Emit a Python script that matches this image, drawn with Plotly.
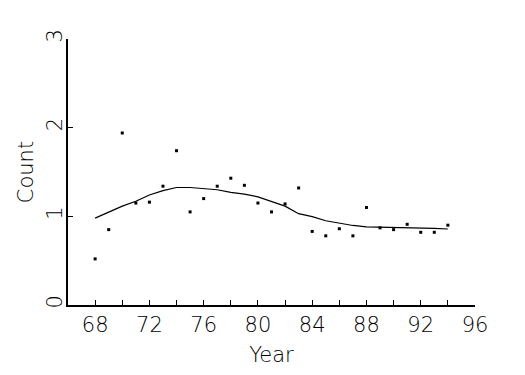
import plotly.graph_objects as go

years = list(range(68, 95))
counts = [0.52, 0.85, 1.94, 1.15, 1.16, 1.34, 1.74, 1.05, 1.20, 1.34, 1.43, 1.35, 1.15, 1.05,
          1.14, 1.32, 0.83, 0.78, 0.86, 0.78, 1.10, 0.87, 0.85, 0.91, 0.82, 0.82, 0.90]
smooth = [0.98, 1.05, 1.115, 1.17, 1.24, 1.29, 1.325, 1.325, 1.31, 1.30, 1.27, 1.25, 1.22, 1.17,
          1.115, 1.03, 0.997, 0.95, 0.92, 0.897, 0.88, 0.878, 0.87, 0.87, 0.864, 0.864, 0.857]
x_ticks = [68, 72, 76, 80, 84, 88, 92, 96]
y_ticks = [0, 1, 2, 3]

FONT = "DejaVu Sans"

fig = go.Figure()
fig.add_trace(go.Scatter(x=years, y=smooth, mode="lines",
                         line=dict(color="black", width=1.2), showlegend=False))
fig.add_trace(go.Scatter(x=years, y=counts, mode="markers",
                         marker=dict(color="black", size=3, symbol="square"), showlegend=False))

fig.update_layout(
    width=525, height=375,
    margin=dict(l=68, r=50, t=39, b=65),
    plot_bgcolor="white", paper_bgcolor="white",
    font=dict(family=FONT, color="black", size=20, weight=200),
    xaxis=dict(range=[66, 96], tickvals=x_ticks, ticktext=[str(v) for v in x_ticks],
               ticks="inside", ticklen=5, tickwidth=1, tickcolor="black",
               minor=dict(tickvals=list(range(68, 97, 2)), ticks="inside", ticklen=5, tickwidth=1, tickcolor="black"),
               showline=True, linecolor="black", linewidth=2, showgrid=False, zeroline=False,
               title=dict(text="Year", font=dict(size=21, family=FONT, weight=200), standoff=11),
               tickfont=dict(size=21, family=FONT, weight=200)),
    yaxis=dict(range=[0, 3], tickvals=y_ticks, ticktext=[str(v) for v in y_ticks],
               ticks="inside", ticklen=5, tickwidth=1, tickcolor="black", tickangle=-90,
               ticklabelstandoff=-4,
               showline=True, linecolor="black", linewidth=2, showgrid=False, zeroline=False,
               title=dict(text="Count", font=dict(size=21, family=FONT, weight=200), standoff=3),
               tickfont=dict(size=21, family=FONT, weight=200)),
)

fig.write_html("out.html")
